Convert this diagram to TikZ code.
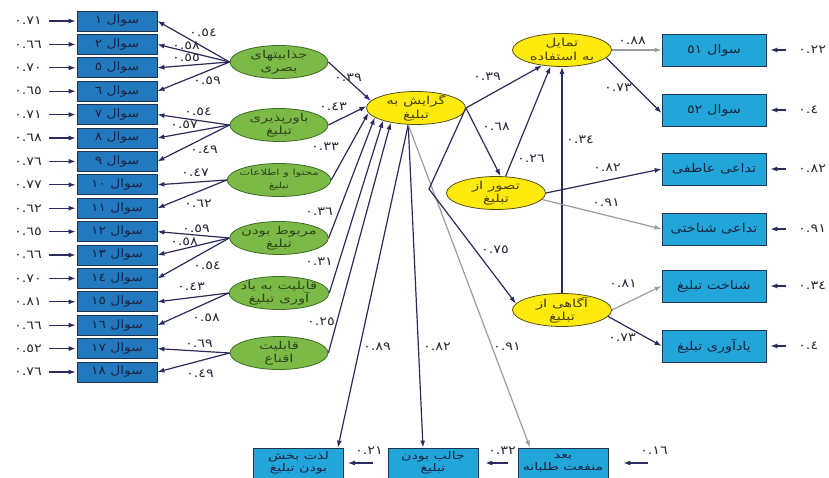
\documentclass[tikz,border=0pt]{standalone}
\usepackage{fontspec}
\setmainfont{DejaVu Sans}
\newfontfamily\arabicfont[Script=Arabic,FakeStretch=1.2]{DejaVu Sans}
\newfontfamily\arabicwide[Script=Arabic,FakeStretch=1.35]{DejaVu Sans}
\TeXXeTstate=1
\usetikzlibrary{arrows.meta,shapes.geometric}
\newcommand{\fa}[1]{\beginR #1\endR}
\definecolor{navy}{HTML}{2B2A5C}
\definecolor{lboxfill}{HTML}{2279BE}
\definecolor{rboxfill}{HTML}{22A6DA}
\definecolor{boxline}{HTML}{23324F}
\definecolor{boxtext}{HTML}{1B2340}
\definecolor{gfill}{HTML}{7CBA48}
\definecolor{gline}{HTML}{3D6B22}
\definecolor{gtext}{HTML}{2E4519}
\definecolor{yfill}{HTML}{FFEA10}
\definecolor{yline}{HTML}{55501A}
\definecolor{ytext}{HTML}{4A3F05}
\definecolor{lbltext}{HTML}{2A2A3A}
\definecolor{grayarr}{HTML}{9C9C9C}
\begin{document}
\begin{tikzpicture}[x=1pt,y=-1pt,
  lbox/.style={draw=boxline, fill=lboxfill, minimum width=80pt, minimum height=20pt, inner sep=0pt, text=boxtext, line width=0.8pt, font=\arabicfont\fontsize{11.5}{12}\selectfont},
  rbox/.style={lbox, fill=rboxfill, minimum width=104pt, minimum height=32pt, font=\arabicfont\fontsize{12}{13}\selectfont},
  bbox/.style={lbox, fill=rboxfill, minimum width=90pt, minimum height=30pt, align=center, font=\arabicwide\fontsize{10.5}{12}\selectfont},
  gell/.style={ellipse, draw=gline, fill=gfill, line width=0.8pt, minimum width=98pt, minimum height=33pt, inner sep=-3pt, align=center, text=gtext, font=\arabicwide\fontsize{11}{13.5}\selectfont},
  yell/.style={gell, draw=yline, fill=yfill, text=ytext, minimum width=99pt, minimum height=33pt},
  lbl/.style={inner sep=1pt, text=lbltext, font=\arabicfont\fontsize{12}{12}\selectfont},
  arr/.style={draw=navy, line width=1.2pt, -{Latex[length=7pt,width=5pt]}},
  garr/.style={arr, draw=grayarr},
  earr/.style={arr, line width=1.1pt}
]
\useasboundingbox (0,0) rectangle (829,478);

% ---------- left indicator boxes ----------
\node[lbox] (q1)  at (117,21)    {\fa{سوال ١}};
\node[lbox] (q2)  at (117,44.4)  {\fa{سوال ٢}};
\node[lbox] (q5)  at (117,67.8)  {\fa{سوال ٥}};
\node[lbox] (q6)  at (117,91.2)  {\fa{سوال ٦}};
\node[lbox] (q7)  at (117,114.6) {\fa{سوال ٧}};
\node[lbox] (q8)  at (117,138)   {\fa{سوال ٨}};
\node[lbox] (q9)  at (117,161.4) {\fa{سوال ٩}};
\node[lbox] (q10) at (117,184.8) {\fa{سوال ١٠}};
\node[lbox] (q11) at (117,208.2) {\fa{سوال ١١}};
\node[lbox] (q12) at (117,231.6) {\fa{سوال ١٢}};
\node[lbox] (q13) at (117,255)   {\fa{سوال ١٣}};
\node[lbox] (q14) at (117,278.4) {\fa{سوال ١٤}};
\node[lbox] (q15) at (117,301.8) {\fa{سوال ١٥}};
\node[lbox] (q16) at (117,325.2) {\fa{سوال ١٦}};
\node[lbox] (q17) at (117,348.6) {\fa{سوال ١٧}};
\node[lbox] (q18) at (117,372)   {\fa{سوال ١٨}};

% ---------- left error terms ----------
\foreach \n/\v/\yy in {1/٠.٧١/21, 2/٠.٦٦/44.4, 5/٠.٧٠/67.8, 6/٠.٦٥/91.2, 7/٠.٧١/114.6, 8/٠.٦٨/138, 9/٠.٧٦/161.4, 10/٠.٧٧/184.8, 11/٠.٦٢/208.2, 12/٠.٦٥/231.6, 13/٠.٦٦/255, 14/٠.٧٠/278.4, 15/٠.٨١/301.8, 16/٠.٦٦/325.2, 17/٠.٥٢/348.6, 18/٠.٧٦/372}{
  \node[lbl] (e\n) at (28,\yy) {\v};
  \draw[earr, shorten <=6pt, shorten >=1pt] (e\n.east) -- (q\n.west);
}

% ---------- green latent ellipses ----------
\node[gell] (g1) at (279,62)  {\fa{جذابیتهای}\\\fa{بصری}};
\node[gell] (g2) at (279,125) {\fa{باورپذیری}\\\fa{تبلیغ}};
\node[gell, font=\arabicwide\fontsize{8.5}{13}\selectfont] (g3) at (279,180) {\fa{محتوا و اطلاعات}\\\fa{تبلیغ}};
\node[gell] (g4) at (279,238) {\fa{مربوط بودن}\\\fa{تبلیغ}};
\node[gell] (g5) at (279,293) {\fa{قابلیت به یاد}\\\fa{آوری تبلیغ}};
\node[gell] (g6) at (279,353) {\fa{قابلیت}\\\fa{اقناع}};

% ---------- yellow latent ellipses ----------
\node[yell] (att) at (416,108) {\fa{گرایش به}\\\fa{تبلیغ}};
\node[yell] (tam) at (562,50)  {\fa{تمایل}\\\fa{به استفاده}};
\node[yell] (tas) at (496,193) {\fa{تصور از}\\\fa{تبلیغ}};
\node[yell] (agh) at (562,310) {\fa{آگاهی از}\\\fa{تبلیغ}};

% ---------- right boxes ----------
\node[rbox] (r1) at (714,50)  {\fa{سوال ٥١}};
\node[rbox] (r2) at (714,110) {\fa{سوال ٥٢}};
\node[rbox] (r3) at (714,169) {\fa{تداعی عاطفی}};
\node[rbox] (r4) at (714,229) {\fa{تداعی شناختی}};
\node[rbox] (r5) at (714,286) {\fa{شناخت تبلیغ}};
\node[rbox] (r6) at (714,346) {\fa{یادآوری تبلیغ}};

\foreach \n/\v/\yy in {1/٠.٢٢/50, 2/٠.٤/110, 3/٠.٨٢/169, 4/٠.٩١/229, 5/٠.٣٤/286, 6/٠.٤/346}{
  \node[lbl, anchor=west] (re\n) at (797,\yy) {\v};
  \draw[earr, shorten <=11pt, shorten >=4pt] (re\n.west) -- (r\n.east);
}

% ---------- bottom boxes ----------
\node[bbox] (b1) at (298.5,463) {\fa{لذت بخش}\\\fa{بودن تبلیغ}};
\node[bbox] (b2) at (433,463)   {\fa{جالب بودن}\\\fa{تبلیغ}};
\node[bbox] (b3) at (563,463)   {\fa{بعد}\\\fa{منفعت طلبانه}};

\coordinate (t1) at (373,463);
\coordinate (t2) at (508,463);
\coordinate (t3) at (648,463);
\node[lbl] (be1) at (369,451) {٠.٢١};
\node[lbl] (be2) at (502,451) {٠.٣٢};
\node[lbl] (be3) at (654,451) {٠.١٦};
\draw[earr, shorten >=4pt] (t1) -- (b1.east);
\draw[earr, shorten >=7pt] (t2) -- (b2.east);
\draw[earr, shorten >=15pt] (t3) -- (b3.east);

% ---------- ellipse -> indicator arrows ----------
\foreach \s/\t in {g1/q1, g1/q2, g1/q5, g1/q6, g2/q7, g2/q8, g2/q9, g3/q10, g3/q11, g4/q12, g4/q13, g4/q14, g5/q15, g5/q16, g6/q17, g6/q18}{
  \draw[arr] (\s.west) -- (\t.east);
}
\node[lbl] (l1a) at (203,33)  {٠.٥٤};
\node[lbl] (l1b) at (186,46)  {٠.٥٨};
\node[lbl] (l1c) at (186,58)  {٠.٥٥};
\node[lbl] (l1d) at (207,81)  {٠.٥٩};
\node[lbl] (l2a) at (198,112) {٠.٥٤};
\node[lbl] (l2b) at (184,125) {٠.٥٧};
\node[lbl] (l2c) at (204,150) {٠.٤٩};
\node[lbl] (l3a) at (195,173) {٠.٤٧};
\node[lbl] (l3b) at (198,204) {٠.٦٢};
\node[lbl] (l4a) at (196,229) {٠.٥٩};
\node[lbl] (l4b) at (184,242) {٠.٥٨};
\node[lbl] (l4c) at (207,266) {٠.٥٤};
\node[lbl] (l5a) at (191,287) {٠.٤٣};
\node[lbl] (l5b) at (206,318) {٠.٥٨};
\node[lbl] (l6a) at (199,344) {٠.٦٩};
\node[lbl] (l6b) at (200,374) {٠.٤٩};

% ---------- ellipses -> attitude ----------
\draw[arr] (g1.east) -- (att.171);
\draw[arr] (g2.east) -- (att.178);
\draw[arr] (g3.east) -- (att.186);
\draw[arr] (g4.east) -- (att.193);
\draw[arr] (g5.east) -- (att.201);
\draw[arr] (g6.east) -- (att.210);
\node[lbl] (c1) at (348,78)  {٠.٣٩};
\node[lbl] (c2) at (333,107) {٠.٤٣};
\node[lbl] (c3) at (325,147) {٠.٣٣};
\node[lbl] (c4) at (319,212) {٠.٣٦};
\node[lbl] (c5) at (319,262) {٠.٣١};
\node[lbl] (c6) at (321,322) {٠.٢٥};

% ---------- attitude -> bottom boxes ----------
\draw[arr]  (att.245) -- ([xshift=-6pt]b1.north east);
\draw[arr]  (att.245) -- ([xshift=-10pt]b2.north);
\draw[garr] (att.245) -- ([xshift=-33pt]b3.north);
\node[lbl] (d1) at (377,347) {٠.٨٩};
\node[lbl] (d2) at (437,347) {٠.٨٢};
\node[lbl] (d3) at (507,347) {٠.٩١};

% ---------- structural paths on the right ----------
\coordinate (kink) at (429,189);
\draw[arr] (att.east) -- (tam.218);
\draw[arr] (att.east) -- (tas.75);
\draw[arr] (att.east) -- (kink) -- (agh.172);
\draw[arr] (tas.60) -- (tam.235);
\draw[arr] (agh.north) -- (tam.south);
\node[lbl] (s1) at (487,77)  {٠.٣٩};
\node[lbl] (s2) at (496,127) {٠.٦٨};
\node[lbl] (s3) at (531,159) {٠.٢٦};
\node[lbl] (s4) at (580,140) {٠.٣٤};
\node[lbl] (s5) at (495,250) {٠.٧٥};

% ---------- latent -> right indicators ----------
\draw[garr] (tam.east) -- (r1.west);
\draw[arr]  (tam.-10) -- ([yshift=-3pt]r2.west);
\draw[arr]  (tas.east) -- (r3.west);
\draw[garr] (tas.-8) -- (r4.west);
\draw[garr] (agh.east) -- (r5.west);
\draw[arr]  (agh.-8) -- (r6.west);
\node[lbl] (m1) at (632,41)  {٠.٨٨};
\node[lbl] (m2) at (618,88)  {٠.٧٣};
\node[lbl] (m3) at (607,168) {٠.٨٢};
\node[lbl] (m4) at (606,203) {٠.٩١};
\node[lbl] (m5) at (623,284) {٠.٨١};
\node[lbl] (m6) at (622,338) {٠.٧٣};
\end{tikzpicture}
\end{document}
